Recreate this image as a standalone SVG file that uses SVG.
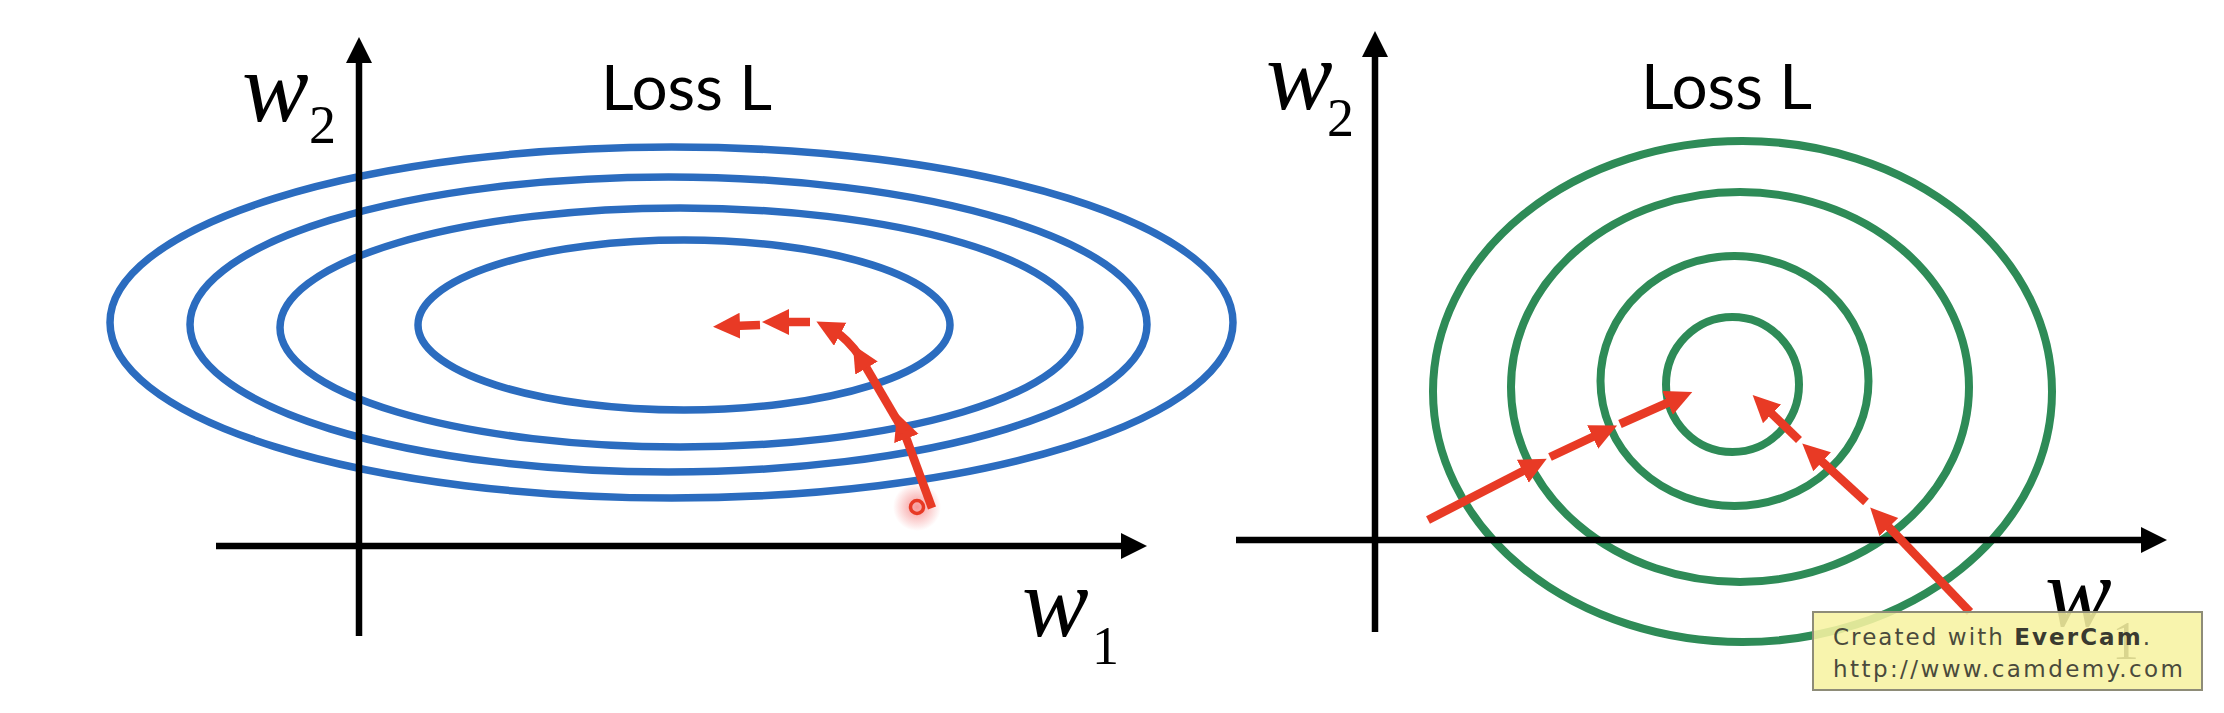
<svg xmlns="http://www.w3.org/2000/svg" width="2224" height="713" viewBox="0 0 2224 713">
  <style>
    .axis { stroke: #000; stroke-width: 6.5; fill: none; marker-end: url(#axh); }
    .blue { stroke: #2b6cbf; stroke-width: 7.5; fill: none; }
    .green { stroke: #2e8b57; stroke-width: 8; fill: none; }
    .red { stroke: #e83a25; stroke-width: 8.5; fill: none; marker-end: url(#rh); }
    .var { font-family: "Liberation Serif", serif; font-style: italic; fill: #000; }
    .sub { font-family: "Liberation Serif", serif; fill: #000; }
    .title { font-family: Lato, "Open Sans", sans-serif; fill: #000; }
    .wm { font-family: "DejaVu Sans", sans-serif; font-size: 23px; fill: #4a4a3c; }
  </style>
  <defs>
    <marker id="axh" markerUnits="userSpaceOnUse" markerWidth="30" markerHeight="30" refX="4" refY="13" orient="auto">
      <path d="M0,0 L26,13 L0,26 Z" fill="#000"/>
    </marker>
    <marker id="rh" markerUnits="userSpaceOnUse" markerWidth="34" markerHeight="34" refX="7" refY="13" orient="auto">
      <path d="M0,0 L27,13 L0,26 Z" fill="#e83a25"/>
    </marker>
    <radialGradient id="glow">
      <stop offset="0" stop-color="#f04040" stop-opacity="0.55"/>
      <stop offset="1" stop-color="#f04040" stop-opacity="0"/>
    </radialGradient>
  </defs>
  <rect width="2224" height="713" fill="#fff"/>

  <!-- Left panel -->
  <g id="left-contours">
    <ellipse class="blue" cx="671.5" cy="322.5" rx="561.5" ry="175.5"/>
    <ellipse class="blue" cx="668.5" cy="324.5" rx="478.5" ry="147.5"/>
    <ellipse class="blue" cx="680" cy="327.5" rx="400" ry="119.5"/>
    <ellipse class="blue" cx="684" cy="325" rx="266" ry="85"/>
  </g>
  <g id="left-axes">
    <line class="axis" x1="359" y1="636" x2="359" y2="59"/>
    <line class="axis" x1="216" y1="546" x2="1125" y2="546"/>
  </g>
  <g id="left-labels">
    <text class="title" x="601" y="110" font-size="62" textLength="171" lengthAdjust="spacingAndGlyphs">Loss L</text>
    <text class="var" x="242" y="121" font-size="100">w</text>
    <text class="sub" x="309" y="143" font-size="54">2</text>
    <text class="var" x="1022" y="636" font-size="100">w</text>
    <text class="sub" x="1092" y="664" font-size="54">1</text>
  </g>
  <g id="left-start">
    <circle cx="917" cy="507" r="24" fill="url(#glow)"/>
    <circle cx="917" cy="507" r="6.5" fill="none" stroke="#e83a25" stroke-width="3.5"/>
  </g>
  <g id="left-path">
    <line class="red" x1="932" y1="508" x2="904" y2="432"/>
    <line class="red" x1="904" y1="432" x2="863" y2="362"/>
    <path class="red" d="M861,358 Q847,338 834,331"/>
    <line class="red" x1="810" y1="322" x2="782" y2="322"/>
    <line class="red" x1="760" y1="325" x2="733" y2="326"/>
  </g>

  <!-- Right panel -->
  <g id="right-contours">
    <ellipse class="green" cx="1732.5" cy="384.5" rx="66.5" ry="67.5"/>
    <ellipse class="green" cx="1734.5" cy="381" rx="134" ry="125"/>
    <ellipse class="green" cx="1740" cy="387" rx="229" ry="195"/>
    <ellipse class="green" cx="1742.5" cy="391.5" rx="309.5" ry="250.5"/>
  </g>
  <g id="right-axes">
    <line class="axis" x1="1375" y1="632" x2="1375" y2="53"/>
    <line class="axis" x1="1236" y1="540" x2="2145" y2="540"/>
  </g>
  <g id="right-labels">
    <text class="title" x="1641" y="109" font-size="62" textLength="171" lengthAdjust="spacingAndGlyphs">Loss L</text>
    <text class="var" x="1266" y="109" font-size="100">w</text>
    <text class="sub" x="1327" y="136" font-size="54">2</text>
    <text class="var" x="2045" y="626" font-size="100">w</text>
    <text class="sub" x="2112" y="659" font-size="54">1</text>
  </g>
  <g id="right-paths">
    <line class="red" x1="1428" y1="520" x2="1529" y2="468"/>
    <line class="red" x1="1550" y1="457" x2="1599" y2="434"/>
    <line class="red" x1="1620" y1="424" x2="1674" y2="400"/>
    <line class="red" x1="1970" y1="612" x2="1884" y2="522"/>
    <line class="red" x1="1866" y1="502" x2="1817" y2="457"/>
    <line class="red" x1="1799" y1="440" x2="1767" y2="409"/>
  </g>

  <!-- Watermark -->
  <g id="watermark">
    <rect x="1813" y="612" width="389" height="78" fill="#f7f3a2" fill-opacity="0.88" stroke="#8e8c78" stroke-width="2"/>
    <text class="wm" x="1833" y="645" textLength="317" lengthAdjust="spacing">Created with <tspan font-weight="bold" fill="#3a3a30">EverCam</tspan>.</text>
    <text class="wm" x="1833" y="677" textLength="350" lengthAdjust="spacing">http://www.camdemy.com</text>
  </g>
</svg>
